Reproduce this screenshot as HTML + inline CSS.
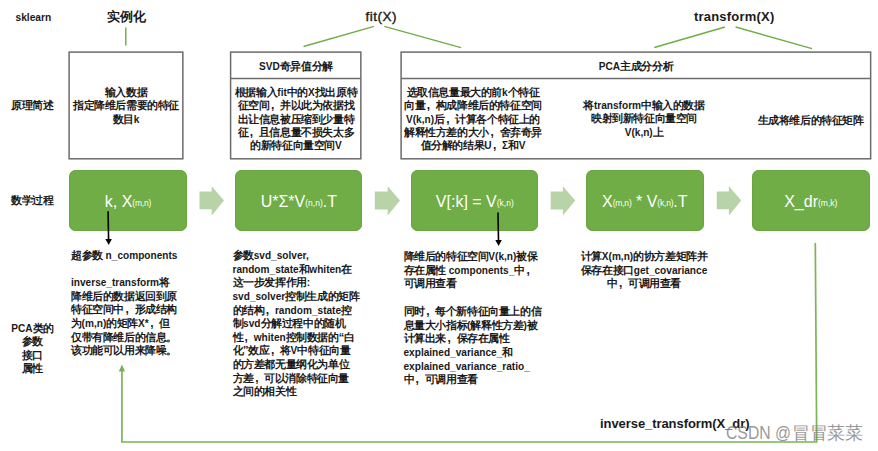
<!DOCTYPE html>
<html><head><meta charset="utf-8">
<style>
html,body{margin:0;padding:0;background:#fff;}
body{width:878px;height:451px;position:relative;overflow:hidden;font-family:"Liberation Sans",sans-serif;color:#1a1a1a;}
.t{position:absolute;white-space:nowrap;font-weight:bold;font-size:10.1px;line-height:13.25px;}
.k{letter-spacing:-0.4px;font-size:11px;}
.cm{display:inline-block;width:10.6px;text-indent:1.5px;font-size:12px;letter-spacing:0;text-align:left;}
.c{text-align:center;}
.g{position:absolute;background:#70ad47;border-radius:7px;box-shadow:inset 0 0 0 0.8px #67a33f;}
.gt{position:absolute;white-space:nowrap;color:#fff;font-size:16px;line-height:20px;text-align:center;}
.gt sub{font-size:8.5px;vertical-align:baseline;position:relative;top:-0.6px;}
svg{position:absolute;left:0;top:0;}
</style></head><body>
<svg width="878" height="451">
  <g stroke="#70ad47" stroke-width="1.45" fill="none">
    <line x1="125.8" y1="27.5" x2="125.8" y2="45.5"/>
    <line x1="374" y1="26.4" x2="303.5" y2="46.5"/>
    <line x1="384.3" y1="26.4" x2="461" y2="47.6"/>
    <line x1="725" y1="27" x2="654.3" y2="47.5"/>
    <line x1="735.6" y1="27" x2="812" y2="48.6"/>
  </g>
  <polyline points="815.3,243 816.7,442 121.9,442 121.9,370" stroke="#7ab556" stroke-width="1.7" fill="none"/>
  <polygon points="121.9,364.4 118.8,371.6 125,371.6" fill="#74b050"/>
  <g fill="#b7d3a7">
    <polygon points="199.5,191.6 211.7,191.6 211.7,186.3 224,200.5 211.7,215.5 211.7,209.2 199.5,209.2"/>
    <polygon points="374.8,191.6 387.7,191.6 387.7,186.3 400,200.5 387.7,215.5 387.7,209.4 374.8,209.4"/>
    <polygon points="550.7,191.6 562.9,191.6 562.9,186.3 575.2,200.5 562.9,215.5 562.9,209.4 550.7,209.4"/>
    <polygon points="716.7,191.6 728.9,191.6 728.9,186.3 741.2,200.5 728.9,215.5 728.9,209.2 716.7,209.2"/>
  </g>
</svg>
<div class="t" style="left:15.5px;top:11.2px;font-size:10.2px;">sklearn</div>
<div class="t" style="left:106.5px;top:9px;font-size:13px;line-height:16px;letter-spacing:0.4px;">实例化</div>
<div class="t" style="left:365.5px;top:8.6px;font-size:13.5px;line-height:16px;font-weight:normal;letter-spacing:0.5px;-webkit-text-stroke:0.4px #1a1a1a;">fit(X)</div>
<div class="t" style="left:694px;top:9px;font-size:13px;line-height:16px;letter-spacing:0.2px;">transform(X)</div>
<div class="t" style="left:11px;top:99px;"><span class="k">原理简述</span></div>
<div class="t" style="left:11px;top:193.5px;"><span class="k">数学过程</span></div>
<div class="t c" style="left:2px;top:322px;width:61px;line-height:12.3px;">PCA<span class="k">类的</span><br><span class="k">参数</span><br><span class="k">接口</span><br><span class="k">属性</span></div>
<svg width="878" height="451"><g fill="none" stroke="#6c6c6c" stroke-width="1.5">
  <rect x="69.1" y="52.1" width="113.75" height="106.7"/>
  <rect x="230.6" y="52.1" width="130.25" height="106.7"/>
  <line x1="230.6" y1="78.4" x2="360.85" y2="78.4"/>
  <rect x="401.1" y="52.1" width="469.55" height="106.7"/>
  <line x1="401.1" y1="78.4" x2="870.65" y2="78.4"/>
</g></svg>
<div class="t c" style="left:68px;top:86px;width:116px;"><span class="k">输入数据</span><br><span class="k">指定降维后需要的特征</span><br><span class="k">数目</span>k</div>
<div class="t c" style="left:230px;top:60px;width:132px;">SVD<span class="k">奇异值分解</span></div>
<div class="t c" style="left:230px;top:86px;width:132px;"><span class="k">根据输入</span>fit<span class="k">中的</span>X<span class="k">找出原特</span><br><span class="k">征空间<span class="cm">,</span>并以此为依据找</span><br><span class="k">出让信息被压缩到少量特</span><br><span class="k">征<span class="cm">,</span>且信息量不损失太多</span><br><span class="k">的新特征向量空间</span>V</div>
<div class="t c" style="left:556px;top:60px;width:160px;">PCA<span class="k">主成分分析</span></div>
<div class="t c" style="left:400px;top:86px;width:146px;"><span class="k">选取信息量最大的前</span>k<span class="k">个特征</span><br><span class="k">向量<span class="cm">,</span>构成降维后的特征空间</span><br>V(k,n)<span class="k">后<span class="cm">,</span>计算各个特征上的</span><br><span class="k">解释性方差的大小<span class="cm">,</span>舍弃奇异</span><br><span class="k">值分解的结果</span>U<span class="k"><span class="cm">,</span></span>Σ<span class="k">和</span>V</div>
<div class="t c" style="left:564px;top:98.8px;width:160px;line-height:13.4px;"><span class="k">将</span>transform<span class="k">中输入的数据</span><br><span class="k">映射到新特征向量空间</span><br>V(k,n)<span class="k">上</span></div>
<div class="t" style="left:757.5px;top:113.5px;"><span class="k">生成将维后的特征矩阵</span></div>
<div class="g" style="left:68.8px;top:170.2px;width:118.3px;height:61px;"></div>
<div class="g" style="left:235.1px;top:170.2px;width:127.2px;height:61px;"></div>
<div class="g" style="left:411.2px;top:170.2px;width:127.1px;height:61px;"></div>
<div class="g" style="left:586.3px;top:170.2px;width:117.6px;height:61px;"></div>
<div class="g" style="left:752px;top:170.2px;width:117.5px;height:61px;"></div>
<div class="gt" style="left:69.5px;width:117px;top:191.6px;">k, X<sub style="letter-spacing:-0.2px">(m,n)</sub></div>
<div class="gt" style="left:235.3px;width:127px;top:191.6px;">U*Σ*V<sub>(n,n)</sub>.T</div>
<div class="gt" style="left:411.3px;width:127px;top:191.6px;">V[:k] = V<sub>(k,n)</sub></div>
<div class="gt" style="left:586.3px;width:117px;top:191.6px;">X<sub style="letter-spacing:-0.2px">(m,n)</sub> * V<sub style="letter-spacing:-0.2px">(k,n)</sub>.T</div>
<div class="gt" style="left:752px;width:117.5px;top:191.6px;">X_dr<sub>(m,k)</sub></div>
<svg width="878" height="451">
  <g stroke="#000" stroke-width="1.6">
    <line x1="108.1" y1="211.2" x2="108.6" y2="241"/>
    <line x1="498" y1="212.5" x2="498.5" y2="241"/>
  </g>
  <polygon points="105.4,239 111.9,239 108.7,245" fill="#000"/>
  <polygon points="495.3,240 501.8,240 498.6,246" fill="#000"/>
</svg>
<div class="t" style="left:71px;top:248.5px;line-height:13.7px;"><span class="k">超参数</span> n_components<br><br>inverse_transform<span class="k">将</span><br><span class="k">降维后的数据返回到原</span><br><span class="k">特征空间中<span class="cm">,</span>形成结构</span><br><span class="k">为</span>(m,n)<span class="k">的矩阵</span>X*<span class="k"><span class="cm">,</span>但</span><br><span class="k">仅带有降维后的信息。</span><br><span class="k">该功能可以用来降噪。</span></div>
<div class="t" style="left:232.5px;top:248.9px;line-height:13.65px;"><span class="k">参数</span>svd_solver,<br>random_state<span class="k">和</span>whiten<span class="k">在</span><br><span class="k">这一步发挥作用</span>:<br>svd_solver<span class="k">控制生成的矩阵</span><br><span class="k">的结构<span class="cm">,</span></span>random_state<span class="k">控</span><br><span class="k">制</span>svd<span class="k">分解过程中的随机</span><br><span class="k">性<span class="cm">,</span></span>whiten<span class="k">控制数据的“白</span><br><span class="k">化”效应<span class="cm">,</span>将</span>V<span class="k">中特征向量</span><br><span class="k">的方差都无量纲化为单位</span><br><span class="k">方差<span class="cm">,</span>可以消除特征向量</span><br><span class="k">之间的相关性</span></div>
<div class="t" style="left:403.5px;top:250px;line-height:13.7px;"><span class="k">降维后的特征空间</span>V(k,n)<span class="k">被保</span><br><span class="k">存在属性</span> components_<span class="k">中<span class="cm">,</span></span><br><span class="k">可调用查看</span><br><br><span class="k">同时<span class="cm">,</span>每个新特征向量上的信</span><br><span class="k">息量大小指标</span>(<span class="k">解释性方差</span>)<span class="k">被</span><br><span class="k">计算出来<span class="cm">,</span>保存在属性</span><br>explained_variance_<span class="k">和</span><br>explained_variance_ratio_<br><span class="k">中<span class="cm">,</span>可调用查看</span></div>
<div class="t c" style="left:564px;top:250px;width:160px;line-height:13.7px;"><span class="k">计算</span>X(m,n)<span class="k">的协方差矩阵并</span><br><span class="k">保存在接口</span>get_covariance<br><span class="k">中<span class="cm">,</span>可调用查看</span></div>
<div class="t" style="left:600px;top:415.7px;font-size:13px;line-height:16px;letter-spacing:-0.07px;">inverse_transform(X_dr)</div>
<div class="t" style="left:726px;top:422.5px;font-size:17.5px;line-height:20px;font-weight:normal;color:rgba(125,125,125,0.8);transform:scaleX(0.9);transform-origin:0 0;">CSDN @</div><div class="t" style="left:792.3px;top:422.5px;font-size:17.5px;line-height:20px;font-weight:normal;letter-spacing:-0.4px;color:rgba(125,125,125,0.8);">冒冒菜菜</div>
</body></html>
